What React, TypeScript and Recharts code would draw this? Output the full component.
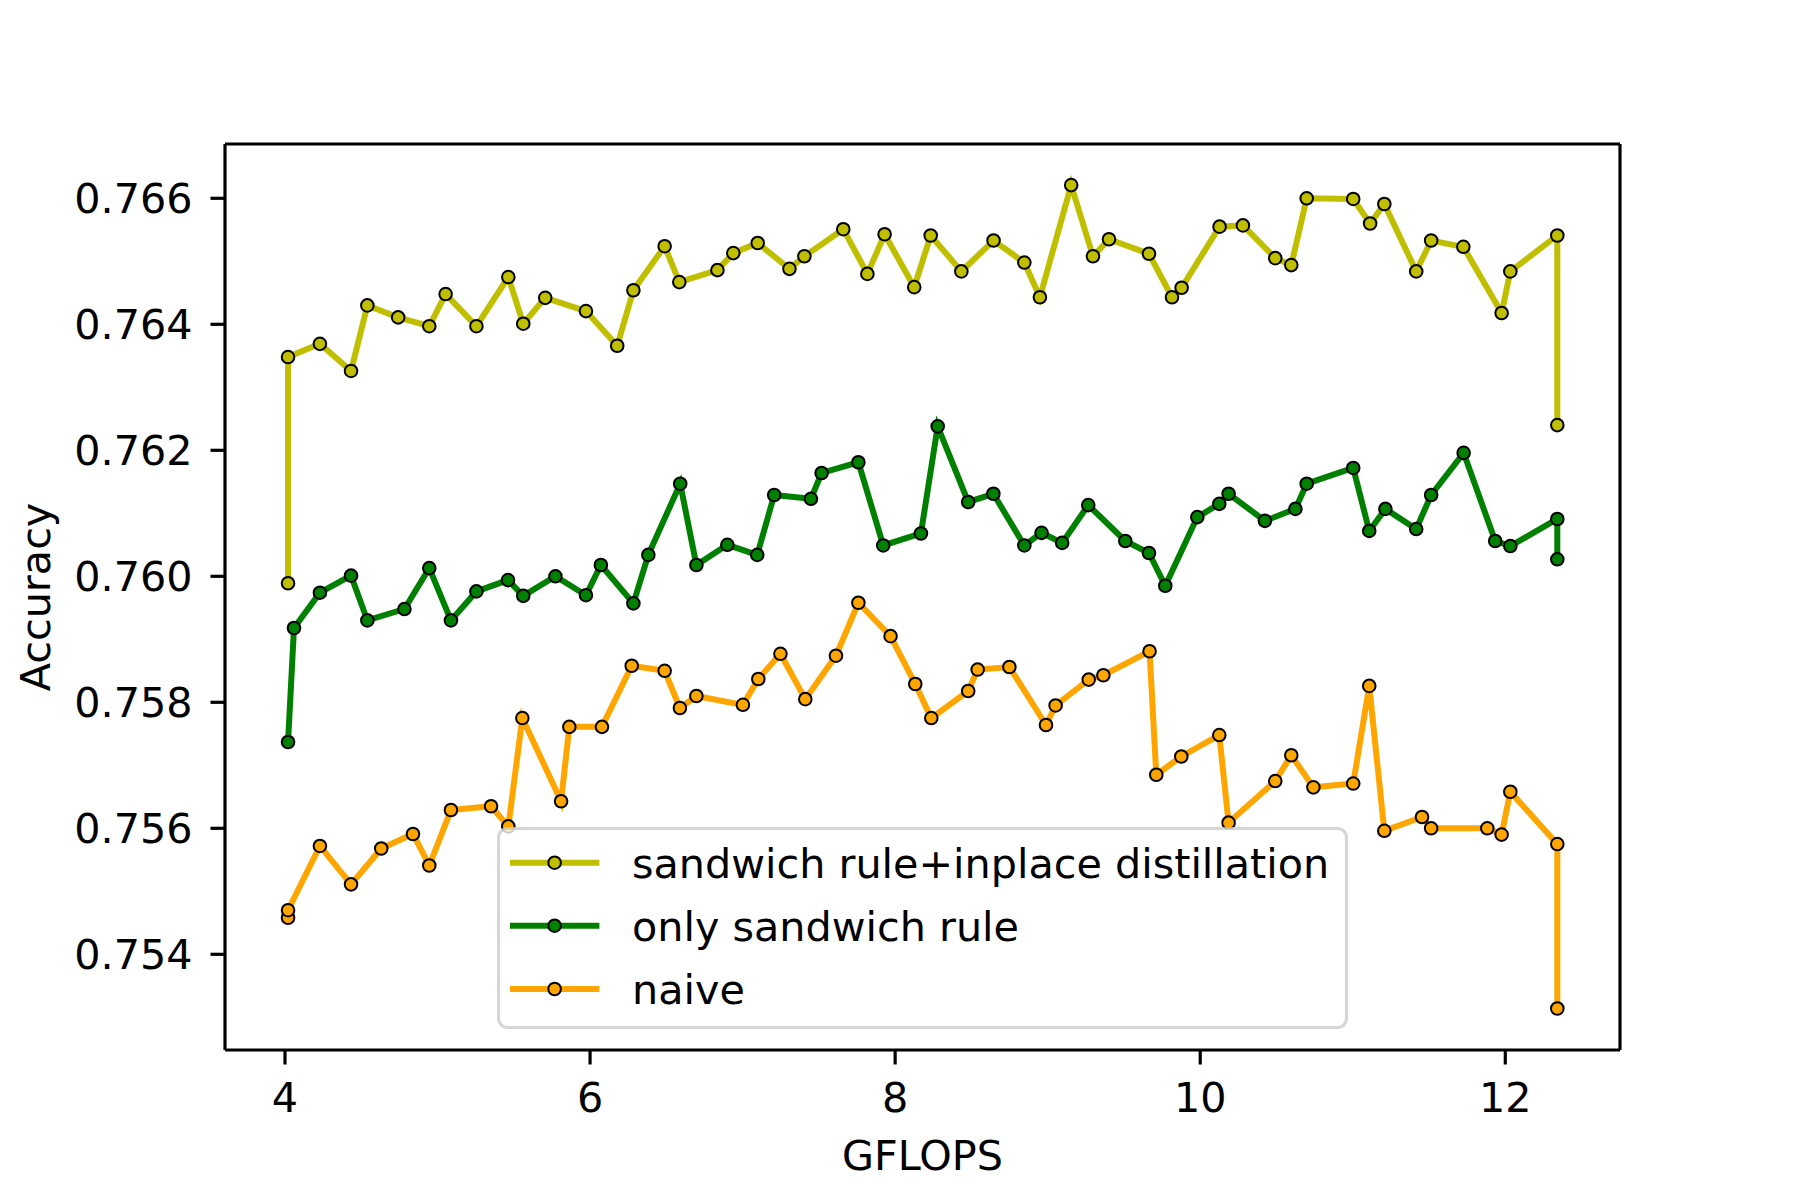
import React from 'react';
import { LineChart, Line, XAxis, YAxis, Legend, ReferenceLine } from 'recharts';

// ---------- data ----------
const distillX = [4.02, 4.02, 4.229, 4.433, 4.54, 4.742, 4.946, 5.053, 5.255, 5.464, 5.562, 5.706, 5.973, 6.178, 6.284, 6.489, 6.585, 6.835, 6.939, 7.099, 7.307, 7.405, 7.66, 7.818, 7.931, 8.125, 8.233, 8.434, 8.645, 8.847, 8.949, 9.154, 9.297, 9.402, 9.664, 9.815, 9.878, 10.127, 10.28, 10.492, 10.597, 10.698, 11.003, 11.114, 11.207, 11.416, 11.514, 11.725, 11.976, 12.033, 12.341, 12.341];
const distillAcc = [0.75989, 0.76348, 0.76369, 0.76326, 0.7643, 0.76411, 0.76397, 0.76448, 0.76397, 0.76475, 0.76401, 0.76442, 0.76421, 0.76366, 0.76454, 0.76524, 0.76467, 0.76486, 0.76513, 0.76529, 0.76488, 0.76508, 0.76551, 0.7648, 0.76543, 0.76459, 0.76541, 0.76484, 0.76533, 0.76498, 0.76443, 0.76621, 0.76508, 0.76535, 0.76512, 0.76443, 0.76458, 0.76555, 0.76557, 0.76505, 0.76494, 0.766, 0.76599, 0.7656, 0.76591, 0.76484, 0.76533, 0.76523, 0.76418, 0.76484, 0.76541, 0.7624];

const sandwichX = [4.02, 4.059, 4.229, 4.433, 4.54, 4.783, 4.946, 5.088, 5.255, 5.462, 5.562, 5.773, 5.973, 6.071, 6.284, 6.382, 6.591, 6.697, 6.9, 7.096, 7.207, 7.448, 7.518, 7.759, 7.922, 8.169, 8.279, 8.479, 8.644, 8.847, 8.96, 9.095, 9.266, 9.509, 9.664, 9.771, 9.981, 10.125, 10.186, 10.424, 10.624, 10.698, 11.003, 11.108, 11.214, 11.416, 11.514, 11.727, 11.934, 12.033, 12.341, 12.341];
const sandwichAcc = [0.75737, 0.75918, 0.75974, 0.76001, 0.7593, 0.75948, 0.76013, 0.7593, 0.75976, 0.75994, 0.75969, 0.76, 0.7597, 0.76018, 0.75957, 0.76034, 0.76147, 0.76018, 0.7605, 0.76034, 0.76129, 0.76123, 0.76164, 0.76181, 0.76049, 0.76068, 0.76238, 0.76118, 0.76131, 0.76049, 0.76069, 0.76053, 0.76113, 0.76056, 0.76037, 0.75985, 0.76094, 0.76115, 0.76131, 0.76088, 0.76107, 0.76147, 0.76172, 0.76072, 0.76107, 0.76075, 0.76129, 0.76196, 0.76056, 0.76048, 0.76091, 0.76027];

const naiveX = [4.02, 4.02, 4.229, 4.433, 4.631, 4.839, 4.946, 5.088, 5.351, 5.464, 5.556, 5.81, 5.864, 6.078, 6.273, 6.489, 6.589, 6.697, 7.002, 7.103, 7.248, 7.411, 7.612, 7.759, 7.97, 8.132, 8.237, 8.479, 8.541, 8.749, 8.989, 9.052, 9.269, 9.365, 9.668, 9.712, 9.876, 10.125, 10.186, 10.492, 10.597, 10.742, 11.003, 11.108, 11.207, 11.454, 11.514, 11.882, 11.976, 12.033, 12.341, 12.341];
const naiveAcc = [0.75458, 0.7547, 0.75572, 0.75511, 0.75568, 0.75591, 0.75541, 0.75629, 0.75635, 0.75603, 0.75775, 0.75643, 0.75761, 0.75761, 0.75858, 0.7585, 0.75791, 0.7581, 0.75796, 0.75837, 0.75877, 0.75805, 0.75874, 0.75958, 0.75905, 0.75829, 0.75775, 0.75818, 0.75852, 0.75856, 0.75764, 0.75795, 0.75836, 0.75843, 0.75881, 0.75685, 0.75714, 0.75748, 0.75609, 0.75675, 0.75716, 0.75665, 0.75671, 0.75826, 0.75596, 0.75618, 0.756, 0.756, 0.7559, 0.75658, 0.75575, 0.75314];

const xTicks = [4, 6, 8, 10, 12];
const yTicks = [0.754, 0.756, 0.758, 0.76, 0.762, 0.764, 0.766];
const xDomain = [3.6067, 12.752];
const yDomain = [0.752481, 0.766862];

const zip = (xs: number[], ys: number[]) => xs.map((x, i) => ({ x, y: ys[i] }));

const series = [
  { name: 'sandwich rule+inplace distillation', color: '#bfbf00', data: zip(distillX, distillAcc) },
  { name: 'only sandwich rule', color: '#008000', data: zip(sandwichX, sandwichAcc) },
  { name: 'naive', color: '#ffa500', data: zip(naiveX, naiveAcc) },
];

const FONT = 'DejaVu Sans';
const FS = 41.3;
const SPINE = 3.2;
const DOT_R = 6.3;

const LegendBox = () => {
  const w = 851;
  const h = 202;
  const rows = [35.7, 98.7, 162];
  return (
    <svg width={w} height={h} style={{ display: 'block' }}>
      <rect x={1.5} y={1.5} width={w - 3} height={h - 3} rx={9} ry={9}
        fill="rgba(255,255,255,0.8)" stroke="rgba(204,204,204,0.8)" strokeWidth={3.2} />
      {series.map((s, i) => (
        <g key={s.name}>
          <line x1={13} x2={102.4} y1={rows[i]} y2={rows[i]} stroke={s.color} strokeWidth={6} />
          <circle cx={57.6} cy={rows[i]} r={DOT_R} fill={s.color} stroke="#000" strokeWidth={2} />
          <text x={135} y={rows[i] + 15} fontSize={FS} fontFamily={FONT} fill="#000">{s.name}</text>
        </g>
      ))}
    </svg>
  );
};

const YLabel = (props: any) => {
  const vb = props.viewBox || { x: 0, y: 0, width: 0, height: 0 };
  const cx = vb.x + 50;
  const cy = vb.y + vb.height / 2;
  return (
    <text x={cx} y={cy} transform={`rotate(-90 ${cx} ${cy})`} textAnchor="middle"
      fontSize={FS} fontFamily={FONT} fill="#000">Accuracy</text>
  );
};

export default function App() {
  return (
    <div style={{ position: 'absolute', left: 0, top: 0, width: 1800, height: 1200, background: '#fff', fontFamily: FONT }}>
      <LineChart width={1800} height={1200} margin={{ top: 144, right: 180, bottom: 0, left: 0 }}>
        <XAxis
          dataKey="x"
          type="number"
          domain={xDomain}
          ticks={xTicks}
          allowDataOverflow
          height={150}
          tickSize={14.5}
          tickMargin={18}
          axisLine={{ stroke: '#000', strokeWidth: SPINE }}
          tickLine={{ stroke: '#000', strokeWidth: SPINE }}
          tick={{ fontSize: FS, fill: '#000', fontFamily: FONT }}
          tickFormatter={(v: number) => String(v)}
          label={{ value: 'GFLOPS', position: 'insideBottom', offset: 30, fontSize: FS, fill: '#000', fontFamily: FONT }}
        />
        <YAxis
          type="number"
          domain={yDomain}
          ticks={yTicks}
          allowDataOverflow
          width={225}
          tickSize={14.5}
          tickMargin={18}
          axisLine={{ stroke: '#000', strokeWidth: SPINE }}
          tickLine={{ stroke: '#000', strokeWidth: SPINE }}
          tick={{ fontSize: FS, fill: '#000', fontFamily: FONT }}
          tickFormatter={(v: number) => v.toFixed(3)}
          label={{ content: YLabel }}
        />
        {series.map((s) => (
          <Line
            key={s.name}
            name={s.name}
            data={s.data}
            dataKey="y"
            type="linear"
            stroke={s.color}
            strokeWidth={6}
            dot={{ r: DOT_R, fill: s.color, stroke: '#000', strokeWidth: 2 }}
            activeDot={false}
            isAnimationActive={false}
          />
        ))}
        <ReferenceLine y={yDomain[1]} stroke="#000" strokeWidth={SPINE} ifOverflow="visible" />
        <ReferenceLine x={xDomain[1]} stroke="#000" strokeWidth={SPINE} ifOverflow="visible" />
        <Legend
          layout="vertical"
          align="center"
          verticalAlign="middle"
          content={() => <LegendBox />}
          wrapperStyle={{ position: 'absolute', left: 497, top: 827, width: 851, height: 202, margin: 0, padding: 0 }}
        />
      </LineChart>
    </div>
  );
}
